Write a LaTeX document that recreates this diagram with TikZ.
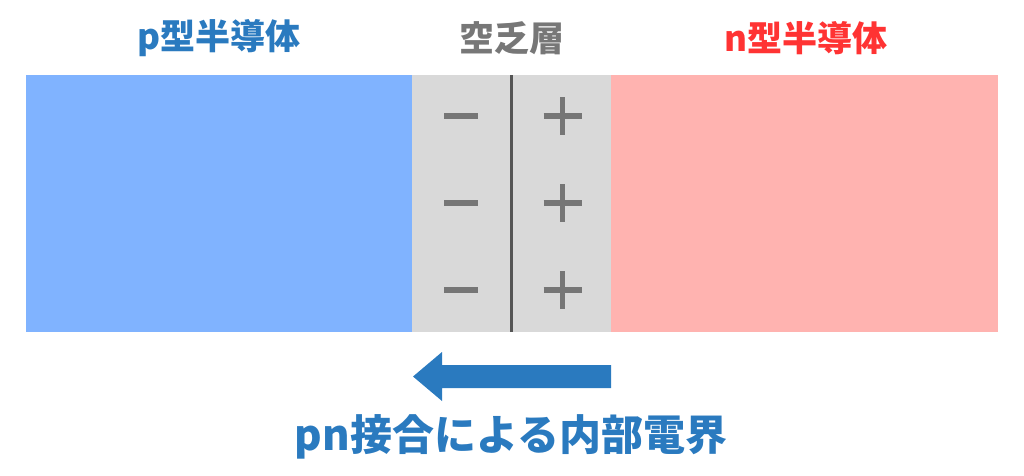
\documentclass[tikz,border=0pt]{standalone}
\usepackage{fontspec}
\usepackage{tikz}
\usetikzlibrary{positioning}
\newfontfamily\jp{Noto Sans CJK JP}
\definecolor{pblue}{HTML}{80B3FF}
\definecolor{nred}{HTML}{FFB3B0}
\definecolor{depgray}{HTML}{D9D9D9}
\definecolor{signgray}{HTML}{767676}
\definecolor{linegray}{HTML}{555555}
\definecolor{textblue}{HTML}{2A7ABF}
\definecolor{textred}{HTML}{FF3333}
\definecolor{textgray}{HTML}{777777}
\newcommand*{\minusZeichen}[1]{% #1 = center
   \draw[signgray, line width=5.5pt] ($(#1)+(-17,0)$) -- ($(#1)+(17,0)$);
}
\newcommand*{\plusZeichen}[1]{% #1 = center
   \draw[signgray, line width=5.5pt] ($(#1)+(-19,0)$) -- ($(#1)+(19,0)$);
   \draw[signgray, line width=5.5pt] ($(#1)+(0,-19)$) -- ($(#1)+(0,19)$);
}
\usetikzlibrary{calc}
\begin{document}
\begin{tikzpicture}[
		x=1pt,
		y=-1pt,
		block/.style={inner sep=0pt, outer sep=0pt, minimum height=257pt},
		title/.style={font=\jp\bfseries\fontsize{35}{35}\selectfont, inner sep=0pt}
	]
		\useasboundingbox (0,0) rectangle (1024,475);
		
		\node[block, fill=pblue, minimum width=386pt, anchor=north west] (pside) at (26,75) {};
		\node[block, fill=depgray, minimum width=199pt, anchor=north west] (dep) at (412,75) {};
		\node[block, fill=nred, minimum width=387pt, anchor=north west] (nside) at (611,75) {};
		\draw[linegray, line width=3.5pt] (dep.north) -- (dep.south);
		
		\foreach \y in {116,203,290} {
			\minusZeichen{461,\y}
			\plusZeichen{562.5,\y}
		}
		
		\node[title, textblue] (ptitle) at (219,38) {p型半導体};
		\node[title, textgray] (deptitle) at (512,38) {空乏層};
		\node[title, textred] (ntitle) at (806,38) {n型半導体};
		
		% inneres Feld
		\fill[textblue] (611,365) -- (442,365) -- (442,352) -- (413,376.5)
			-- (442,401) -- (442,388) -- (611,388) -- cycle;
		\node[font=\jp\bfseries\fontsize{42}{42}\selectfont, textblue, inner sep=0pt] (feld) at (511,437) {pn接合による内部電界};
	\end{tikzpicture}
\end{document}
